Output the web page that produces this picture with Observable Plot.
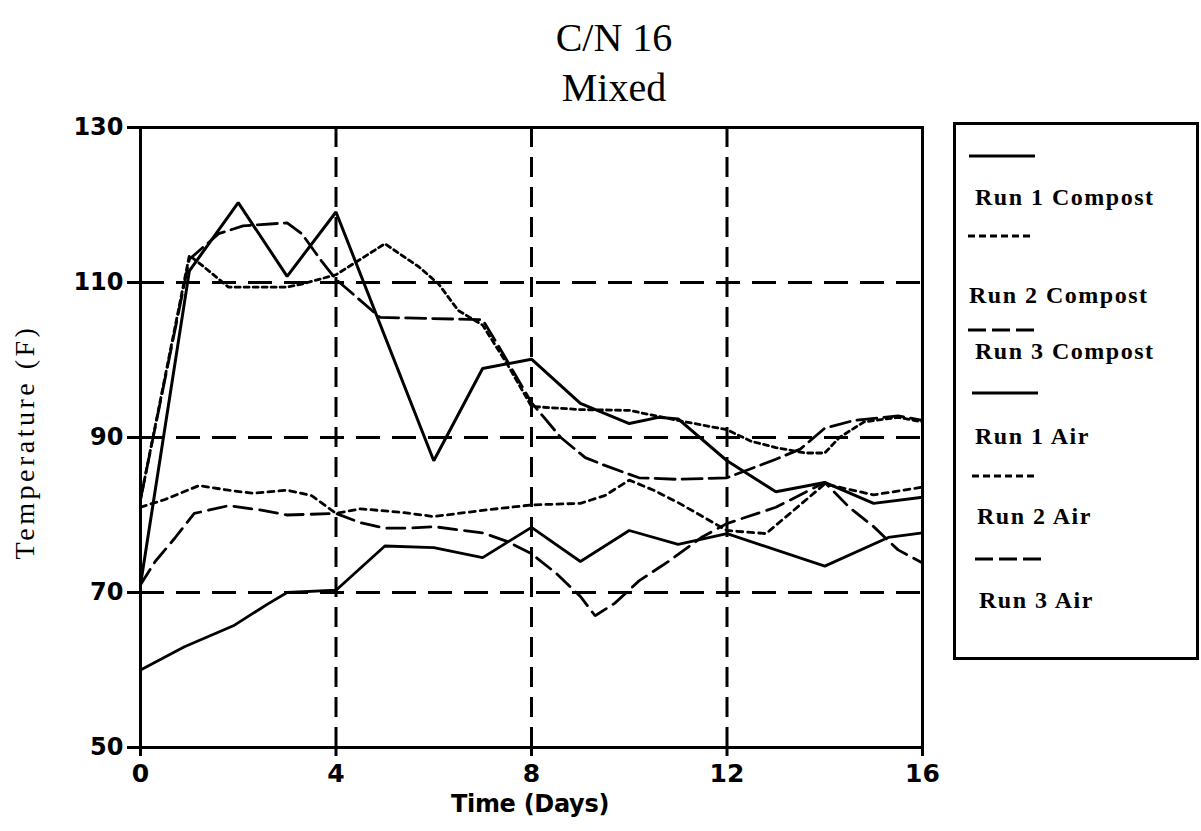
<!DOCTYPE html>
<html>
<head>
<meta charset="utf-8">
<script src="https://cdn.jsdelivr.net/npm/d3@7"></script>
<script src="https://cdn.jsdelivr.net/npm/@observablehq/plot@0.6"></script>
<style>
  html, body { margin: 0; padding: 0; background: #fff; }
  #wrap { position: relative; width: 1201px; height: 831px; overflow: hidden; background: #fff; }
  #chart { position: absolute; left: 0; top: 0; }
  .title { position: absolute; left: 414px; width: 400px; text-align: center; font-family: "Liberation Serif", serif; font-size: 40px; line-height: 50px; color: #000; }
  .xlabel { position: absolute; left: 330px; width: 400px; top: 790px; text-align: center; font-family: "DejaVu Sans", sans-serif; font-weight: bold; font-size: 24px; letter-spacing: -0.3px; color: #000; }
  .ylabel { position: absolute; left: 25px; top: 442px; transform: translate(-50%, -50%) rotate(-90deg); white-space: nowrap; font-family: "Liberation Serif", serif; font-size: 28px; letter-spacing: 3.5px; color: #000; }
  #legend { position: absolute; left: 953px; top: 122px; width: 246px; height: 538px; border: 3px solid #000; box-sizing: border-box; }
  .lg-text { position: absolute; font-family: "Liberation Serif", serif; font-weight: bold; font-size: 24px; letter-spacing: 1.5px; line-height: 26px; white-space: nowrap; color: #000; }
  .lg-line { position: absolute; }
</style>
</head>
<body>
<div id="wrap">
  <div class="title" style="top:13px">C/N 16</div>
  <div class="title" style="top:63px">Mixed</div>
  <div id="chart"></div>
  <div class="xlabel">Time (Days)</div>
  <div class="ylabel">Temperature (F)</div>
  <div id="legend"></div>
</div>
<script>
// ---- Data (day, temperature °F) ----
const run1Compost = [[0,71],[1,111.5],[2,120.3],[3,110.8],[4,119.1],[6,87],[7,98.9],[8,100.1],[9,94.4],[10,91.8],[10.6,92.6],[11,92.4],[12,87],[13,83],[14,84.2],[15,81.5],[16,82.3]];
const run2Compost = [[0,82],[1,113.5],[1.3,112],[1.8,109.4],[3,109.4],[3.3,109.8],[4,111],[5,115],[5.7,112],[6.1,109.8],[6.5,106.4],[7,104.5],[7.5,99.5],[8,94],[9,93.6],[10,93.5],[11,92.2],[12,91],[12.5,89.5],[13,88.7],[13.6,88],[14,88],[14.3,90],[14.8,92],[15.5,92.6],[16,92]];
const run3Compost = [[0,82],[1,113],[1.6,116.3],[2.1,117.3],[3,117.7],[3.3,116.3],[3.7,112.8],[4,110.4],[4.9,105.5],[7,105.2],[7.4,101],[8,94.5],[8.6,90],[9.1,87.4],[9.5,86.4],[10.2,84.8],[11,84.6],[12,84.8],[13,87.2],[13.5,88.5],[14,91.2],[14.6,92.2],[15.5,92.8],[16,92.2]];
const run1Air = [[0,60],[0.9,63],[1.9,65.7],[2.6,68.5],[3,70],[4,70.3],[5,76],[6,75.8],[7,74.5],[8,78.4],[9,74],[10,78],[11,76.2],[12,77.6],[14,73.4],[15.3,77.1],[16,77.7]];
const run2Air = [[0,81],[0.5,82],[1.2,83.8],[1.8,83.2],[2.3,82.8],[3,83.2],[3.5,82.5],[4,80.2],[4.5,80.8],[5.4,80.3],[6,79.8],[7,80.6],[8,81.3],[9,81.5],[9.5,82.5],[10,84.5],[10.5,83.2],[11,81.6],[11.5,79.8],[12,78],[12.8,77.6],[14,84],[15,82.6],[16,83.6]];
const run3Air = [[0,71],[0.3,74],[0.7,77],[1.1,80.2],[1.8,81.2],[2.5,80.6],[3,80],[4,80.2],[4.5,79],[5,78.3],[5.5,78.3],[6,78.5],[7,77.7],[7.5,76.6],[8,75],[8.5,72.5],[9,69.5],[9.3,67],[9.7,68.6],[10.2,71.5],[10.8,74],[11.5,77.2],[12,78.9],[13,81],[14,84.2],[14.5,81],[15,78.5],[15.5,75.5],[16,73.8]];

const seriesNames = ["Run 1 Compost", "Run 2 Compost", "Run 3 Compost", "Run 1 Air", "Run 2 Air", "Run 3 Air"];
const xTicks = [0, 4, 8, 12, 16];
const yTicks = [50, 70, 90, 110, 130];
const gridDays = [4, 8, 12];
const gridTemps = [70, 90, 110];

// ---- Styles ----
const seriesData = [run1Compost, run2Compost, run3Compost, run1Air, run2Air, run3Air];
const seriesDash = [null, "5,4", "20,7", null, "6,5", "18,8"];
const seriesWidth = [3, 2.8, 2.8, 2.8, 2.8, 2.8];

const W = 950, H = 831;
const plot = Plot.plot({
  width: W,
  height: H,
  marginLeft: 140,
  marginTop: 127,
  marginRight: W - 922,
  marginBottom: H - 747,
  x: { domain: [0, 16] },
  y: { domain: [50, 130] },
  style: { color: "black", background: "transparent", overflow: "visible" },
  marks: [
    Plot.ruleX(gridDays, { stroke: "black", strokeWidth: 3, strokeDasharray: "20,10" }),
    Plot.ruleY(gridTemps, { stroke: "black", strokeWidth: 3, strokeDasharray: "24,12" }),
    ...seriesData.map((pts, i) => Plot.line(pts, {
      x: d => d[0], y: d => d[1],
      stroke: "black", strokeWidth: seriesWidth[i],
      strokeDasharray: seriesDash[i], strokeLinejoin: "miter"
    })),
    Plot.frame({ stroke: "black", strokeWidth: 3 }),
    Plot.axisX({ ticks: xTicks, tickSize: 9, tickPadding: 8, strokeWidth: 3, label: null,
      fontSize: 25, fontWeight: "bold", fontFamily: "DejaVu Sans" }),
    Plot.axisY({ ticks: yTicks, tickSize: 13, tickPadding: 4, strokeWidth: 3, label: null,
      fontSize: 24, fontWeight: "bold", fontFamily: "DejaVu Sans" })
  ]
});
document.getElementById("chart").appendChild(plot);

// ---- Legend ----
const legend = document.getElementById("legend");
const legendItems = [
  { name: seriesNames[0], dash: null, lineY: 156, lineX: 969, textX: 975, textY: 197 },
  { name: seriesNames[1], dash: "7,4", lineY: 236, lineX: 968, textX: 969, textY: 295 },
  { name: seriesNames[2], dash: "18,6", lineY: 330, lineX: 968, textX: 975, textY: 351 },
  { name: seriesNames[3], dash: null, lineY: 393, lineX: 972, textX: 975, textY: 436 },
  { name: seriesNames[4], dash: "7,4", lineY: 476, lineX: 972, textX: 977, textY: 516 },
  { name: seriesNames[5], dash: "18,6", lineY: 559, lineX: 975, textX: 979, textY: 600 }
];
const L0 = 953 + 3, T0 = 122 + 3;
legendItems.forEach(it => {
  const svg = document.createElementNS("http://www.w3.org/2000/svg", "svg");
  svg.setAttribute("width", 70); svg.setAttribute("height", 8);
  svg.setAttribute("class", "lg-line");
  svg.style.left = (it.lineX - L0) + "px";
  svg.style.top = (it.lineY - 4 - T0) + "px";
  const ln = document.createElementNS("http://www.w3.org/2000/svg", "line");
  ln.setAttribute("x1", 0); ln.setAttribute("x2", 66);
  ln.setAttribute("y1", 4); ln.setAttribute("y2", 4);
  ln.setAttribute("stroke", "black"); ln.setAttribute("stroke-width", 3);
  if (it.dash) ln.setAttribute("stroke-dasharray", it.dash);
  svg.appendChild(ln);
  legend.appendChild(svg);
  const t = document.createElement("div");
  t.className = "lg-text";
  t.textContent = it.name;
  t.style.left = (it.textX - L0) + "px";
  t.style.top = (it.textY - 13 - T0) + "px";
  legend.appendChild(t);
});
</script>
</body>
</html>
